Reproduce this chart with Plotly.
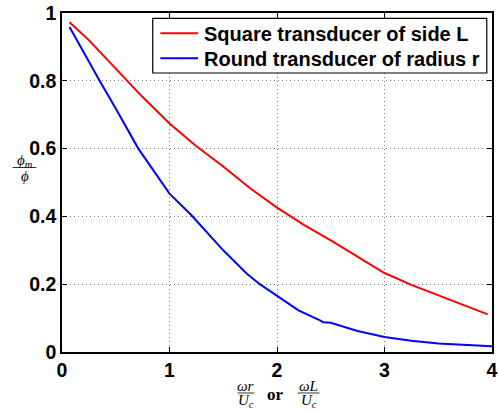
import plotly.graph_objects as go

# Data
square_x = [0.07, 0.25, 0.5, 0.75, 1.0, 1.25, 1.5, 1.75, 2.0, 2.25, 2.5, 2.75, 3.0, 3.25, 3.5, 3.75, 3.96]
square_y = [0.973, 0.92, 0.836, 0.752, 0.674, 0.607, 0.547, 0.483, 0.426, 0.375, 0.329, 0.28, 0.233, 0.198, 0.167, 0.137, 0.111]

round_x = [0.07, 0.12, 0.2, 0.35, 0.5, 0.71, 1.0, 1.2, 1.5, 1.72, 1.84, 2.0, 2.2, 2.4, 2.43, 2.5, 2.75, 3.0, 3.25, 3.5, 3.75, 4.0]
round_y = [0.959, 0.93, 0.885, 0.80, 0.718, 0.60, 0.467, 0.405, 0.30, 0.231, 0.20, 0.166, 0.123, 0.093, 0.088, 0.086, 0.062, 0.044, 0.033, 0.025, 0.02, 0.017]

x_ticks = [0, 1, 2, 3, 4]
x_tick_text = ["0", "1", "2", "3", "4"]
y_ticks = [0, 0.2, 0.4, 0.6, 0.8, 1]
y_tick_text = ["0", "0.2", "0.4", "0.6", "0.8", "1"]

series_names = ["Square transducer of side L", "Round transducer of radius r"]
series_colors = ["#ff0000", "#0000ff"]

W, H = 498, 412
L, R, T, B = 62, 0, 13, 60
PW, PH = W - L - R, H - T - B


def px(x):
    return (x - L) / PW


def py(y):
    return (H - B - y) / PH


fig = go.Figure()
fig.add_trace(go.Scatter(x=square_x, y=square_y, mode="lines", name=series_names[0],
                         line=dict(color=series_colors[0], width=2), showlegend=False))
fig.add_trace(go.Scatter(x=round_x, y=round_y, mode="lines", name=series_names[1],
                         line=dict(color=series_colors[1], width=2), showlegend=False))

tickfont = dict(family="Liberation Sans, Arial, sans-serif", size=19.5, color="black")
axis_common = dict(showline=True, linecolor="black", linewidth=1.5, mirror="ticks",
                   ticks="inside", ticklen=5, tickcolor="black", tickwidth=1,
                   showgrid=True, gridcolor="#777777", gridwidth=1, griddash="1px,3px",
                   zeroline=False, tickfont=tickfont, ticklabeloverflow="allow")

fig.update_xaxes(range=[0, 4], tickvals=x_ticks, ticktext=["<b>%s</b>" % t for t in x_tick_text], **axis_common)
fig.update_yaxes(range=[0, 1], tickvals=y_ticks, ticktext=["<b>%s</b>" % t for t in y_tick_text], **axis_common)

math_font = dict(family="Liberation Serif, DejaVu Serif, serif", size=15, color="black")
anns = []
shapes = []


def frac(cx, cy_line, num, den, half_w):
    anns.append(dict(x=px(cx), y=py(cy_line - 7), xref="paper", yref="paper", text=num,
                     showarrow=False, xanchor="center", yanchor="middle", font=math_font))
    anns.append(dict(x=px(cx), y=py(cy_line + 8.5), xref="paper", yref="paper", text=den,
                     showarrow=False, xanchor="center", yanchor="middle", font=math_font))
    shapes.append(dict(type="line", xref="paper", yref="paper",
                       x0=px(cx - half_w), x1=px(cx + half_w), y0=py(cy_line), y1=py(cy_line),
                       line=dict(color="black", width=0.8)))


# x-axis label: ωr/U_c or ωL/U_c
frac(248.5, 393, "<i>ωr</i>", "<i>U<sub>c</sub></i>", 8.5)
anns.append(dict(x=px(278.5), y=py(394), xref="paper", yref="paper", text="<b>or</b>",
                 showarrow=False, xanchor="center", yanchor="middle",
                 font=dict(family="Liberation Serif, DejaVu Serif, serif", size=17, color="black")))
frac(312, 393, "<i>ωL</i>", "<i>U<sub>c</sub></i>", 11)

# y-axis label: ϕ_m / ϕ
frac(24, 167.5, "<i>ϕ<sub>m</sub></i>", "<i>ϕ</i>", 12)

# Legend box (MATLAB style)
shapes.append(dict(type="rect", xref="paper", yref="paper",
                   x0=px(154), x1=px(492.7), y0=py(73), y1=py(18.3),
                   fillcolor="white", line=dict(color="black", width=1.2), layer="above"))
legend_rows = [33.3, 58.3]
for name, color, yrow in zip(series_names, series_colors, legend_rows):
    shapes.append(dict(type="line", xref="paper", yref="paper",
                       x0=px(161.7), x1=px(200), y0=py(yrow), y1=py(yrow),
                       line=dict(color=color, width=2), layer="above"))
    anns.append(dict(x=px(204), y=py(yrow + 0.5), xref="paper", yref="paper",
                     text="<b>%s</b>" % name, showarrow=False,
                     xanchor="left", yanchor="middle",
                     font=dict(family="Liberation Sans, Arial, sans-serif", size=20, color="black")))

fig.update_layout(
    width=W, height=H,
    margin=dict(l=L, r=R, t=T, b=B),
    paper_bgcolor="white", plot_bgcolor="white",
    showlegend=False,
    annotations=anns,
    shapes=shapes,
)

fig.write_html("out.html", config={"displayModeBar": False},
               post_script="document.body.style.margin='0px';")
